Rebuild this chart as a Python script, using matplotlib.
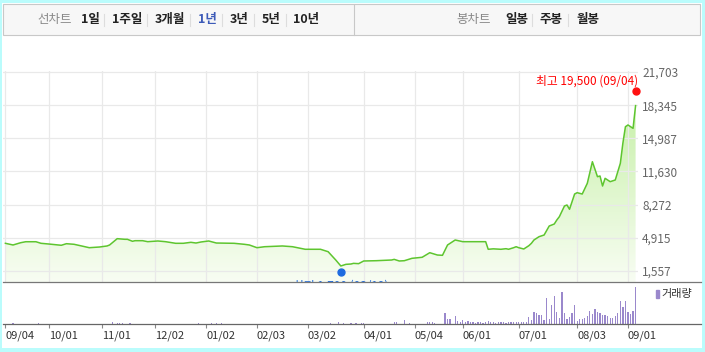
import numpy as np
import pandas as pd
import matplotlib
matplotlib.use("Agg")
import matplotlib.pyplot as plt
from matplotlib.colors import LinearSegmentedColormap
from matplotlib.patches import Rectangle, Polygon
from matplotlib.lines import Line2D
from matplotlib.transforms import offset_copy

plt.rcParams['font.family'] = ['Noto Sans CJK KR', 'DejaVu Sans']

# KRX 휴장일 (주말 제외)
holidays = ['2019-09-12', '2019-09-13', '2019-10-03', '2019-10-09', '2019-12-25',
            '2019-12-31', '2020-01-01', '2020-01-24', '2020-01-27', '2020-04-15',
            '2020-04-30', '2020-05-01', '2020-05-05', '2020-08-17']

# 종가
price_dates = [
    '2019-09-04', '2019-09-09', '2019-09-16', '2019-09-18', '2019-09-24', '2019-09-26',
    '2019-10-01', '2019-10-10', '2019-10-14', '2019-10-17', '2019-10-22', '2019-10-25',
    '2019-10-31', '2019-11-05', '2019-11-06', '2019-11-11', '2019-11-14', '2019-11-15',
    '2019-11-19', '2019-11-20', '2019-11-25', '2019-11-27', '2019-12-03', '2019-12-06',
    '2019-12-12', '2019-12-17', '2019-12-20', '2019-12-24', '2019-12-27', '2020-01-03',
    '2020-01-08', '2020-01-17', '2020-01-23', '2020-01-29', '2020-02-03', '2020-02-06',
    '2020-02-17', '2020-02-21', '2020-02-28', '2020-03-09', '2020-03-12', '2020-03-17',
    '2020-03-19', '2020-03-23', '2020-03-25', '2020-03-26', '2020-03-30', '2020-04-01',
    '2020-04-08', '2020-04-17', '2020-04-20', '2020-04-22', '2020-04-24', '2020-04-29',
    '2020-05-08', '2020-05-13', '2020-05-18', '2020-05-20', '2020-05-22', '2020-05-27',
    '2020-06-01', '2020-06-12', '2020-06-15', '2020-06-17', '2020-06-22', '2020-06-24',
    '2020-06-25', '2020-06-29', '2020-06-30', '2020-07-01', '2020-07-03', '2020-07-07',
    '2020-07-08', '2020-07-09', '2020-07-13', '2020-07-15', '2020-07-17', '2020-07-21',
    '2020-07-22', '2020-07-23', '2020-07-27', '2020-07-28', '2020-07-29', '2020-07-31',
    '2020-08-03', '2020-08-05', '2020-08-07', '2020-08-11', '2020-08-13', '2020-08-14',
    '2020-08-18', '2020-08-19', '2020-08-21', '2020-08-25', '2020-08-27', '2020-08-28',
    '2020-08-31', '2020-09-01', '2020-09-03', '2020-09-04']
close = [
    4360, 4190, 4420, 4520, 4520, 4360,
    4290, 4160, 4320, 4260, 4090, 3915,
    3985, 4090, 4190, 4830, 4765, 4765,
    4565, 4625, 4625, 4525, 4595, 4525,
    4360, 4360, 4460, 4390, 4495, 4595,
    4390, 4360, 4260, 4190, 3915, 4015,
    4090, 4015, 3755, 3755, 3510, 2670,
    2065, 2230, 2265, 2330, 2300, 2570,
    2600, 2670, 2735, 2570, 2600, 2840,
    2945, 3410, 3175, 3145, 4190, 4695,
    4525, 4525, 3755, 3800, 3755, 3815,
    3755, 3915, 4015, 3915, 3785, 4120,
    4360, 4695, 5030, 5200, 6110, 6315,
    6720, 7055, 8135, 8240, 7805, 9350,
    9485, 9350, 10435, 12620, 11105, 11175,
    10160, 10940, 10600, 10770, 12460, 14500,
    16165, 16340, 16000, 18300]

# 거래량 (천주, 눈에 보이는 막대만)
vol_dates = [
    '2019-09-09', '2019-09-25', '2019-11-07', '2019-11-11', '2019-11-12', '2019-11-13',
    '2019-11-18', '2019-12-26', '2020-01-06', '2020-01-08', '2020-01-10', '2020-03-13',
    '2020-03-18', '2020-03-20', '2020-03-25', '2020-03-27', '2020-03-31', '2020-04-01',
    '2020-04-20', '2020-04-21', '2020-04-24', '2020-04-28', '2020-05-12', '2020-05-13',
    '2020-05-14', '2020-05-15', '2020-05-21', '2020-05-22', '2020-05-25', '2020-05-27',
    '2020-05-28', '2020-05-29', '2020-06-01', '2020-06-02', '2020-06-03', '2020-06-04',
    '2020-06-05', '2020-06-08', '2020-06-09', '2020-06-10', '2020-06-11', '2020-06-12',
    '2020-06-15', '2020-06-16', '2020-06-17', '2020-06-18', '2020-06-19', '2020-06-22',
    '2020-06-23', '2020-06-24', '2020-06-25', '2020-06-26', '2020-06-29', '2020-06-30',
    '2020-07-01', '2020-07-02', '2020-07-03', '2020-07-06', '2020-07-07', '2020-07-08',
    '2020-07-09', '2020-07-10', '2020-07-13', '2020-07-14', '2020-07-15', '2020-07-16',
    '2020-07-17', '2020-07-20', '2020-07-21', '2020-07-22', '2020-07-23', '2020-07-24',
    '2020-07-27', '2020-07-28', '2020-07-29', '2020-07-30', '2020-07-31', '2020-08-03',
    '2020-08-04', '2020-08-05', '2020-08-06', '2020-08-07', '2020-08-10', '2020-08-11',
    '2020-08-12', '2020-08-13', '2020-08-14', '2020-08-18', '2020-08-19', '2020-08-20',
    '2020-08-21', '2020-08-24', '2020-08-25', '2020-08-26', '2020-08-27', '2020-08-28',
    '2020-08-31', '2020-09-01', '2020-09-02', '2020-09-03', '2020-09-04']
volume = [
    100, 100, 200, 150, 150, 150,
    100, 100, 100, 100, 100, 100,
    200, 100, 100, 100, 100, 100,
    200, 200, 400, 100, 200, 200,
    200, 100, 1100, 500, 500, 800,
    300, 200, 400, 200, 300, 200,
    200, 100, 200, 200, 100, 200,
    300, 200, 200, 100, 200, 200,
    200, 100, 200, 200, 200, 200,
    200, 200, 200, 200, 700, 400,
    1200, 1100, 900, 900, 400, 2600,
    500, 1900, 2800, 1200, 600, 3200,
    1100, 500, 700, 1100, 1900, 330,
    470, 470, 570, 800, 1300, 1000,
    1500, 1230, 1070, 900, 900, 800,
    570, 570, 800, 1130, 2300, 1730,
    2330, 1230, 1000, 1330, 3670]

yticks = [1557, 4915, 8272, 11630, 14987, 18345, 21703]

high_date, high_value = '2020-09-04', 19500
low_date, low_value = '2020-03-19', 1700

period_tabs = ['1일', '1주일', '3개월', '1년', '3년', '5년', '10년']
candle_tabs = ['일봉', '주봉', '월봉']

# 거래일 번호로 x축 구성
days = pd.bdate_range('2019-09-04', '2020-09-04').drop(pd.to_datetime(holidays))
x = days.get_indexer(pd.to_datetime(price_dates))
vx = days.get_indexer(pd.to_datetime(vol_dates))
hx = days.get_loc(pd.Timestamp(high_date))
lx = days.get_loc(pd.Timestamp(low_date))
pos = pd.Series(np.arange(len(days)), index=days)
month_idx = pos.groupby([days.year, days.month]).first().values
month_lbl = days[month_idx].strftime('%m/%d')

W, H = 705, 352
fig = plt.figure(figsize=(W / 100, H / 100), dpi=100)
fig.patch.set_facecolor('white')


def fx(px):
    return px / W


def fy(py):
    return 1 - py / H


ymin, ymax = 443, 21804
xlim = (-0.95, 248.95)

# 주가 영역
ax = fig.add_axes([fx(3), fy(282), 635 / W, 211 / H])
cmap = LinearSegmentedColormap.from_list('g', ['#f8fdf3', '#bfee9c'])
grad = np.linspace(0, 1, 256).reshape(-1, 1)
img = ax.imshow(grad, extent=[x[0], x[-1], ymin, ymax], origin='lower',
                aspect='auto', cmap=cmap, zorder=1)
poly = Polygon(np.column_stack([np.r_[x, x[-1], x[0]], np.r_[close, ymin, ymin]]),
               closed=True, facecolor='none', edgecolor='none')
ax.add_patch(poly)
img.set_clip_path(poly)
ax.plot(x, close, color='#5ec52f', lw=1.1, zorder=3)

ax.set_xlim(xlim)
ax.set_ylim(ymin, ymax)
ax.set_yticks(yticks)
ax.set_yticklabels([f'{v:,}' for v in yticks])
ax.yaxis.tick_right()
ax.tick_params(axis='y', length=0, pad=3, labelsize=8.5, labelcolor='#666666')
ax.set_xticks(month_idx)
ax.tick_params(axis='x', length=0, labelbottom=False)
ax.grid(True, color='#e9e9e9', lw=0.9, zorder=2.5)
for s in ax.spines.values():
    s.set_visible(False)

# 최고 / 최저 표시
ax.plot(hx, high_value, 'o', color='#ff1010', ms=5, zorder=5, clip_on=False,
        transform=offset_copy(ax.transData, fig, y=2.5, units='dots'))
ax.text(hx, high_value, f'최고 {high_value:,} ({high_date[5:7]}/{high_date[8:]})',
        transform=offset_copy(ax.transData, fig, x=3, y=12.8, units='dots'),
        ha='right', va='center', color='#ff0000', fontsize=8.5)
ax.plot(lx, low_value, 'o', color='#1e6be0', ms=5, zorder=5, clip_on=False,
        transform=offset_copy(ax.transData, fig, y=-2.5, units='dots'))
ax.text(lx, low_value, f'최저 {low_value:,} ({low_date[5:7]}/{low_date[8:]})',
        transform=offset_copy(ax.transData, fig, y=-9.5, units='dots'),
        ha='center', va='top', color='#1e6be0', fontsize=8.5, clip_on=True)

# 거래량 영역
axv = fig.add_axes([fx(3), fy(324), 635 / W, 42 / H])
axv.bar(vx, volume, width=0.5, color='#9a88cc', linewidth=0)
axv.set_xlim(xlim)
axv.set_ylim(0, max(volume) * 42 / 36.7)
axv.set_yticks([])
axv.set_xticks(month_idx)
axv.set_xticklabels(month_lbl)
for lab in axv.get_xticklabels():
    lab.set_ha('left')
axv.tick_params(axis='x', length=3, width=0.8, color='#888888', pad=2,
                labelsize=8, labelcolor='#333333')
for s in axv.spines.values():
    s.set_visible(False)

fig.add_artist(Line2D([fx(3), fx(701)], [fy(282)] * 2, color='#777777', lw=0.9))
fig.add_artist(Line2D([fx(3), fx(701)], [fy(324)] * 2, color='#666666', lw=0.9))
fig.add_artist(Rectangle((fx(656), fy(298)), 3 / W, 8 / H, color='#9a88cc',
                         transform=fig.transFigure))
fig.text(fx(661), fy(294), '거래량', fontsize=8, color='#333333', ha='left', va='center')

# 상단 탭 영역
fig.add_artist(Rectangle((fx(3), fy(35)), 697 / W, 30.5 / H, facecolor='#f7f7f7',
                         edgecolor='#c8c8c8', lw=0.8, transform=fig.transFigure))
fig.add_artist(Line2D([fx(354)] * 2, [fy(35), fy(4.5)], color='#c8c8c8', lw=0.8))

fig.text(fx(37), fy(20), '선차트', fontsize=9, color='#888888', va='center')
tab_x = [81, 112, 155, 198, 230, 262, 293]
for label, tx in zip(period_tabs, tab_x):
    fig.text(fx(tx), fy(20), label, fontsize=9, fontweight='bold', va='center',
             color='#3d5bb8' if label == '1년' else '#222222')
for sx in [104, 147, 190, 222, 254, 286]:
    fig.add_artist(Line2D([fx(sx)] * 2, [fy(14), fy(26)], color='#dddddd', lw=0.8))

fig.text(fx(456), fy(20), '봉차트', fontsize=9, color='#888888', va='center')
for label, tx in zip(candle_tabs, [505, 539, 577]):
    fig.text(fx(tx), fy(20), label, fontsize=9, fontweight='bold', va='center',
             color='#222222')
for sx in [532, 568]:
    fig.add_artist(Line2D([fx(sx)] * 2, [fy(14), fy(26)], color='#dddddd', lw=0.8))

# 바깥 하늘색 테두리
cyan = '#bafcfc'
for r in [(0, 0, 2, H), (702, 0, 3, H), (0, 0, W, 3), (0, 348, W, 4)]:
    fig.add_artist(Rectangle((fx(r[0]), fy(r[1] + r[3])), r[2] / W, r[3] / H,
                             color=cyan, lw=0, transform=fig.transFigure))

fig.savefig('out.png', dpi=100)
